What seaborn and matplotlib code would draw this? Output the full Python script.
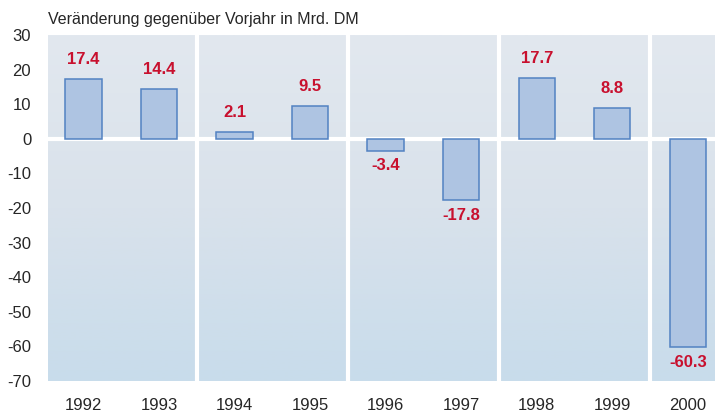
import numpy as np
import pandas as pd
import matplotlib
matplotlib.use("Agg")
import matplotlib.pyplot as plt
from matplotlib.colors import LinearSegmentedColormap
import seaborn as sns

# Daten
jahre = ["1992", "1993", "1994", "1995", "1996", "1997", "1998", "1999", "2000"]
werte = [17.4, 14.4, 2.1, 9.5, -3.4, -17.8, 17.7, 8.8, -60.3]
trenner = [1.5, 3.5, 5.5, 7.5]
y_ticks = list(range(-70, 31, 10))

df = pd.DataFrame({"Jahr": jahre, "Wert": werte})

sns.set_style("white")
plt.rcParams["font.family"] = ["Liberation Sans", "DejaVu Sans"]
plt.rcParams["axes.unicode_minus"] = False

fig = plt.figure(figsize=(7.15, 4.13), dpi=100)
ax = fig.add_axes([0.067, 0.0775, 0.933, 0.8375])

sns.barplot(data=df, x="Jahr", y="Wert", ax=ax, width=0.48,
            color="#AEC4E2", edgecolor="#5282C2", linewidth=1.1,
            saturation=1, zorder=3)

xmin, xmax = -0.47, 8.36
ymin, ymax = -70, 30
ax.set_xlim(xmin, xmax)
ax.set_ylim(ymin, ymax)

# Hintergrund mit Verlauf
cmap = LinearSegmentedColormap.from_list("bg", ["#C8DCEB", "#D9E2EB", "#E2E8EF"])
grad = np.linspace(0, 1, 256).reshape(-1, 1)
ax.imshow(grad, cmap=cmap, extent=[xmin, xmax, ymin, ymax], origin="lower",
          aspect="auto", zorder=0)

for x in trenner:
    ax.axvline(x, color="white", lw=3, zorder=2)
ax.axhline(0, color="white", lw=3, zorder=2)

# Beschriftungen
for i, v in enumerate(werte):
    if v >= 0:
        ax.annotate(f"{v:.1f}", (i, v), xytext=(0, 14), textcoords="offset points",
                    ha="center", va="center", color="#C8102E", fontsize=12,
                    fontweight="bold", zorder=4)
    else:
        ax.annotate(f"{v:.1f}", (i, v), xytext=(0, -11), textcoords="offset points",
                    ha="center", va="center", color="#C8102E", fontsize=12,
                    fontweight="bold", zorder=4)

ax.set_yticks(y_ticks)
ax.set_xticks(np.arange(0.5, len(jahre) - 1, 1), minor=True)
ax.tick_params(axis="y", direction="in", color="white", length=4, width=2,
               labelsize=12, pad=12)
ax.tick_params(axis="x", which="major", length=0, labelsize=12, pad=12)
ax.tick_params(axis="x", which="minor", direction="in", color="white",
               length=4, width=2)
ax.set_xlabel("")
ax.set_ylabel("")
for s in ax.spines.values():
    s.set_visible(False)

fig.text(0.067, 0.952, "Veränderung gegenüber Vorjahr in Mrd. DM",
         fontsize=11.5, ha="left", va="center")

fig.savefig("out.png", dpi=100)
